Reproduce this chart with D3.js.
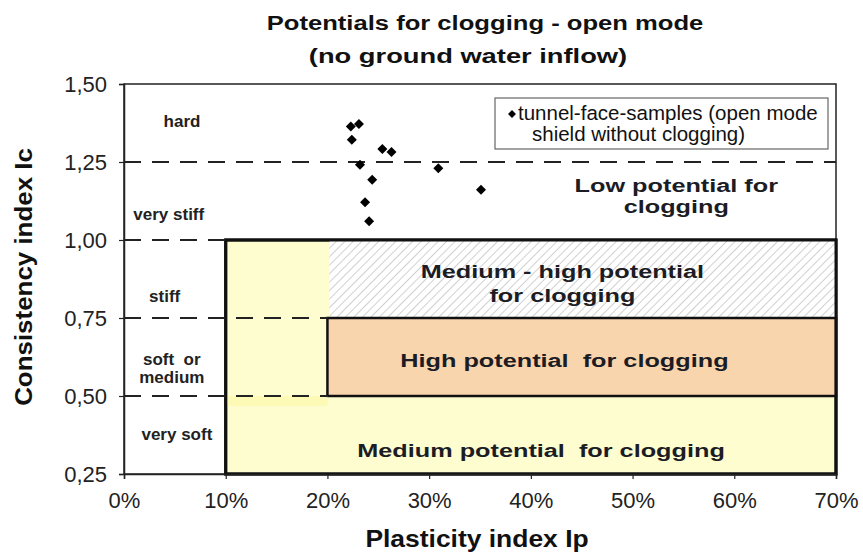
<!DOCTYPE html>
<html>
	<head>
		<title>Potentials for clogging</title>
		<meta charset="utf-8">
		<script src="https://d3js.org/d3.v7.min.js"></script>
		<style>
			html, body
			{
				margin: 0;
				background: #fff;
				font-family: Arial, "Liberation Sans", sans-serif;
			}
			text
			{
				font-family: Arial, "Liberation Sans", sans-serif;
			}
		</style>
	</head>
	<body>
		<svg id="chart" width="863" height="555"></svg>
	</body>
	<script>
		// data
		let xTicks = [0, 0.1, 0.2, 0.3, 0.4, 0.5, 0.6, 0.7];
		let yTicks = [0.25, 0.5, 0.75, 1.0, 1.25, 1.5];

		// tunnel-face-samples: plasticity index, consistency index
		let sampleIp = [0.223, 0.231, 0.224, 0.232, 0.244, 0.237, 0.241, 0.254, 0.263, 0.309, 0.351];
		let sampleIc = [1.364, 1.372, 1.321, 1.241, 1.193, 1.121, 1.060, 1.292, 1.282, 1.230, 1.161];

		// consistency classes on the left (anchor of the first text line)
		let classNames = [["hard"], ["very stiff"], ["stiff"], ["soft  or", "medium"], ["very soft"]];
		let classIp = [0.057, 0.044, 0.040, 0.047, 0.052];
		let classIc = [1.362, 1.064, 0.801, 0.599, 0.359];

		// dashed boundaries: level and where they stop
		let dashLevels = [1.25, 1.0, 0.75, 0.5];
		let dashEnds = [0.7, 0.1, 0.2, 0.2];

		// potential zones [x0, x1, y0, y1]
		let zoneNames = ["Medium", "Medium-high", "High", "strip"];
		let zoneBounds = [[0.1, 0.7, 0.25, 1.0], [0.2, 0.7, 0.75, 1.0], [0.2, 0.7, 0.5, 0.75], [0.1, 0.2, 0.468, 0.5]];

		let zoneLabels = [["Low potential for", "clogging"], ["Medium - high potential", "for clogging"],
			["High potential  for clogging"], ["Medium potential  for clogging"]];
		let zoneLabelIp = [0.543, 0.431, 0.433, 0.41];
		let zoneLabelIc = [1.154, 0.878, 0.593, 0.304];

		let svg = d3.select("#chart");

		let x = d3.scaleLinear().domain([0, 0.7]).range([124, 836]);
		let y = d3.scaleLinear().domain([0.25, 1.5]).range([474, 84]);

		let defs = svg.append("defs");
		let pat = defs.append("pattern")
			.attr("id", "hatch")
			.attr("patternUnits", "userSpaceOnUse")
			.attr("width", 6)
			.attr("height", 6)
			.attr("patternTransform", "rotate(45)");
		pat.append("rect").attr("width", 6).attr("height", 6).attr("fill", "#fff");
		pat.append("line")
			.attr("x1", 0).attr("y1", 0).attr("x2", 0).attr("y2", 6)
			.attr("stroke", "#bcbcbc").attr("stroke-width", 1.4);

		// frame
		svg.append("rect")
			.attr("x", x(0)).attr("y", y(1.5))
			.attr("width", x(0.7) - x(0)).attr("height", y(0.25) - y(1.5))
			.attr("fill", "none").attr("stroke", "#222").attr("stroke-width", 1.5);

		// zones
		let zoneFill = ["#fdfdd0", "url(#hatch)", "#f9d5ae", "#fbf9a4"];
		let zoneStroke = [3, 0, 2.5, 0];
		let zoneOpacity = [1, 1, 1, 0.6];
		zoneBounds.forEach((b, i) =>
		{
			svg.append("rect")
				.attr("class", "zone " + zoneNames[i])
				.attr("x", x(b[0]) + (zoneStroke[i] ? 0 : 2)).attr("y", y(b[3]))
				.attr("width", x(b[1]) - x(b[0]) - (zoneStroke[i] ? 0 : 2)).attr("height", y(b[2]) - y(b[3]))
				.attr("fill", zoneFill[i])
				.attr("opacity", zoneOpacity[i])
				.attr("stroke", zoneStroke[i] ? "#111" : "none")
				.attr("stroke-width", zoneStroke[i]);
		});
		// redraw the outer border of the yellow box on top
		let b0 = zoneBounds[0];
		svg.append("rect")
			.attr("x", x(b0[0])).attr("y", y(b0[3]))
			.attr("width", x(b0[1]) - x(b0[0])).attr("height", y(b0[2]) - y(b0[3]))
			.attr("fill", "none").attr("stroke", "#111").attr("stroke-width", 3);

		// dashed lines
		dashLevels.forEach((lv, i) =>
		{
			svg.append("line")
				.attr("x1", x(0)).attr("x2", x(dashEnds[i]))
				.attr("y1", y(lv)).attr("y2", y(lv))
				.attr("stroke", "#222").attr("stroke-width", 2)
				.attr("stroke-dasharray", "17,11");
		});

		// axes
		let xAxis = svg.append("g")
			.attr("transform", `translate(0,${y(0.25)})`)
			.call(d3.axisBottom(x).tickValues(xTicks).tickSize(5).tickPadding(8)
				.tickFormat(d3.format(".0%")));
		let yAxis = svg.append("g")
			.attr("transform", `translate(${x(0)},0)`)
			.call(d3.axisLeft(y).tickValues(yTicks).tickSize(5).tickPadding(12)
				.tickFormat(d => d3.format(".2f")(d).replace(".", ",")));
		[xAxis, yAxis].forEach(a =>
		{
			a.attr("font-size", 22).attr("font-family", null);
			a.select(".domain").attr("stroke", "#222").attr("stroke-width", 1.5);
			a.selectAll(".tick line").attr("stroke", "#222").attr("stroke-width", 1.2);
			a.selectAll(".tick text").attr("fill", "#222");
		});
		xAxis.selectAll(".tick text").attr("dy", "0.95em");
		yAxis.selectAll(".tick text").attr("dy", "0.36em");

		// class labels
		classNames.forEach((lines, i) =>
		{
			let t = svg.append("text")
				.attr("y", y(classIc[i]))
				.attr("text-anchor", "middle")
				.attr("font-size", 17)
				.attr("font-weight", "bold")
				.attr("fill", "#222")
				.style("white-space", "pre");
			lines.forEach((s, j) =>
			{
				t.append("tspan").attr("x", x(classIp[i]))
					.attr("dy", j == 0 ? 0 : "1.05em")
					.text(s);
			});
		});

		// zone labels, stretched sideways like the original
		function wideText(cx, cy, lines, size, stretch, lineGap)
		{
			let t = svg.append("text")
				.attr("transform", `translate(${cx},${cy}) scale(${stretch},1)`)
				.attr("text-anchor", "middle")
				.attr("font-size", size)
				.attr("font-weight", "bold")
				.attr("fill", "#1c1c24")
				.style("white-space", "pre");
			lines.forEach((s, j) =>
			{
				t.append("tspan").attr("x", 0).attr("dy", j == 0 ? 0 : lineGap).text(s);
			});
			return t;
		}
		zoneLabels.forEach((lines, i) =>
		{
			wideText(x(zoneLabelIp[i]), y(zoneLabelIc[i]), lines, 19, 1.33, i == 0 ? "1.12em" : "1.25em");
		});

		// samples
		let diamond = d3.symbol().type(d3.symbolDiamond2).size(64);
		svg.append("g").selectAll("path")
			.data(sampleIp)
			.join("path")
			.attr("d", diamond)
			.attr("transform", (d, i) => `translate(${x(d)},${y(sampleIc[i])})`)
			.attr("fill", "#000");

		// legend
		svg.append("rect")
			.attr("x", 495).attr("y", 98).attr("width", 333).attr("height", 51)
			.attr("fill", "#fff").attr("stroke", "#666").attr("stroke-width", 1.2);
		svg.append("path")
			.attr("d", d3.symbol().type(d3.symbolDiamond2).size(40))
			.attr("transform", "translate(512,114)")
			.attr("fill", "#000");
		let lg = svg.append("text")
			.attr("font-size", 20.5)
			.attr("fill", "#111");
		lg.append("tspan").attr("x", 518).attr("y", 120).text("tunnel-face-samples (open mode");
		lg.append("tspan").attr("x", 532).attr("y", 141).text("shield without clogging)");

		// titles
		svg.append("text")
			.attr("transform", "translate(485,30) scale(1.22,1)")
			.attr("text-anchor", "middle")
			.attr("font-size", 21)
			.attr("font-weight", "bold")
			.attr("fill", "#111")
			.text("Potentials for clogging - open mode");
		svg.append("text")
			.attr("transform", "translate(468,63) scale(1.3,1)")
			.attr("text-anchor", "middle")
			.attr("font-size", 21)
			.attr("font-weight", "bold")
			.attr("fill", "#111")
			.text("(no ground water inflow)");

		svg.append("text")
			.attr("transform", "translate(477,547) scale(1.15,1)")
			.attr("text-anchor", "middle")
			.attr("font-size", 23)
			.attr("font-weight", "bold")
			.attr("fill", "#111")
			.text("Plasticity index Ip");

		svg.append("text")
			.attr("transform", "translate(32,277) rotate(-90) scale(1.08,1)")
			.attr("text-anchor", "middle")
			.attr("font-size", 24)
			.attr("font-weight", "bold")
			.attr("fill", "#111")
			.text("Consistency index Ic");
	</script>
</html>
